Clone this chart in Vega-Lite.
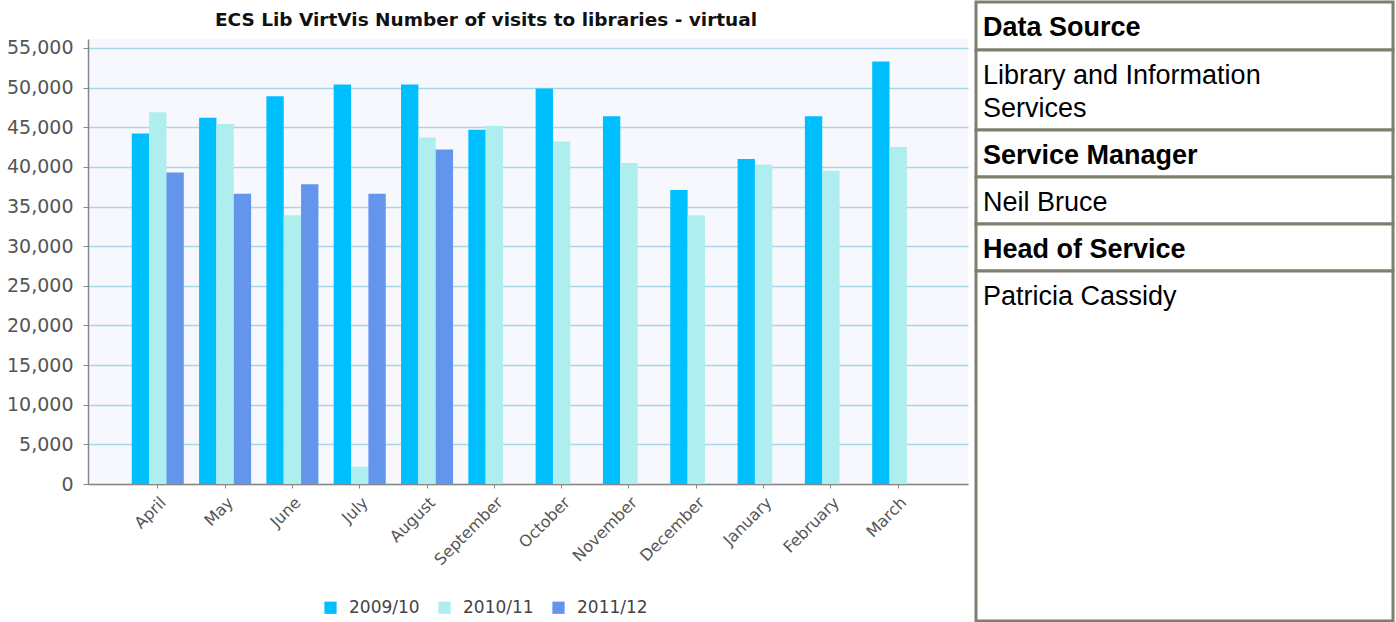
{
  "$schema": "https://vega.github.io/schema/vega-lite/v6.json",
  "padding": 0,
  "background": "white",
  "spacing": 6,
  "bounds": "full",
  "datasets": {
    "visits": [
      {"month": "April", "year": "2009/10", "visits": 44200},
      {"month": "April", "year": "2010/11", "visits": 46900},
      {"month": "April", "year": "2011/12", "visits": 39300},
      {"month": "May", "year": "2009/10", "visits": 46200},
      {"month": "May", "year": "2010/11", "visits": 45400},
      {"month": "May", "year": "2011/12", "visits": 36600},
      {"month": "June", "year": "2009/10", "visits": 48900},
      {"month": "June", "year": "2010/11", "visits": 33900},
      {"month": "June", "year": "2011/12", "visits": 37800},
      {"month": "July", "year": "2009/10", "visits": 50400},
      {"month": "July", "year": "2010/11", "visits": 2200},
      {"month": "July", "year": "2011/12", "visits": 36600},
      {"month": "August", "year": "2009/10", "visits": 50400},
      {"month": "August", "year": "2010/11", "visits": 43700},
      {"month": "August", "year": "2011/12", "visits": 42200},
      {"month": "September", "year": "2009/10", "visits": 44700},
      {"month": "September", "year": "2010/11", "visits": 45200},
      {"month": "October", "year": "2009/10", "visits": 49900},
      {"month": "October", "year": "2010/11", "visits": 43200},
      {"month": "November", "year": "2009/10", "visits": 46400},
      {"month": "November", "year": "2010/11", "visits": 40500},
      {"month": "December", "year": "2009/10", "visits": 37100},
      {"month": "December", "year": "2010/11", "visits": 33900},
      {"month": "January", "year": "2009/10", "visits": 41000},
      {"month": "January", "year": "2010/11", "visits": 40300},
      {"month": "February", "year": "2009/10", "visits": 46400},
      {"month": "February", "year": "2010/11", "visits": 39500},
      {"month": "March", "year": "2009/10", "visits": 53300},
      {"month": "March", "year": "2010/11", "visits": 42500}
    ]
  },
  "hconcat": [
    {
      "vconcat": [
        {
          "width": 796,
          "height": 36,
          "view": {"stroke": null, "fill": null},
          "data": {"values": [{"title": "ECS Lib VirtVis Number of visits to libraries - virtual"}]},
          "mark": {"type": "text", "font": "DejaVu Sans", "fontSize": 18.5, "fontWeight": "bold", "color": "#111111", "baseline": "middle", "align": "center"},
          "encoding": {"text": {"field": "title"}}
        },
        {
          "width": 880,
          "height": 445,
          "view": {"fill": "#f7f8fd", "stroke": null},
          "data": {"name": "visits"},
          "mark": {"type": "bar"},
          "encoding": {
            "x": {
              "field": "month",
              "type": "nominal",
              "sort": ["April", "May", "June", "July", "August", "September", "October", "November", "December", "January", "February", "March"],
              "scale": {"paddingInner": 0.227, "paddingOuter": 0.65},
              "axis": {
                "title": null,
                "labelAngle": -45,
                "labelFont": "DejaVu Sans",
                "labelFontSize": 16,
                "labelColor": "#555555",
                "labelPadding": 6,
                "tickSize": 4,
                "tickColor": "#888888",
                "domainColor": "#888888",
                "domainWidth": 1.5,
                "grid": false
              }
            },
            "xOffset": {
              "field": "year",
              "type": "nominal",
              "scale": {"domain": ["2009/10", "2010/11", "2011/12"], "paddingInner": 0}
            },
            "y": {
              "field": "visits",
              "type": "quantitative",
              "scale": {"domain": [0, 56135], "nice": false},
              "axis": {
                "title": null,
                "values": [0, 5000, 10000, 15000, 20000, 25000, 30000, 35000, 40000, 45000, 50000, 55000],
                "format": ",d",
                "labelFont": "DejaVu Sans",
                "labelFontSize": 19,
                "labelColor": "#555555",
                "labelPadding": 10,
                "tickSize": 5,
                "tickColor": "#888888",
                "domainColor": "#888888",
                "domainWidth": 1.5,
                "gridColor": "#a9d6e6",
                "gridWidth": 1.5,
                "minExtent": 88,
                "maxExtent": 88
              }
            },
            "color": {
              "field": "year",
              "type": "nominal",
              "scale": {"domain": ["2009/10", "2010/11", "2011/12"], "range": ["#00bfff", "#afeeee", "#6495ed"]},
              "legend": {
                "title": null,
                "orient": "none",
                "direction": "horizontal",
                "legendX": 234,
                "legendY": 560,
                "symbolType": "square",
                "symbolSize": 150,
                "symbolStrokeWidth": 0,
                "labelFont": "DejaVu Sans",
                "labelFontSize": 17,
                "labelColor": "#444444",
                "labelOffset": 10,
                "columnPadding": 16
              }
            }
          }
        }
      ],
      "spacing": 0,
      "resolve": {"legend": {"color": "independent"}}
    },
    {
      "spacing": 0,
      "bounds": "flush",
      "vconcat": [
        {
          "width": 417, "height": 48,
          "view": {"stroke": "#7f7f70", "strokeWidth": 3, "fill": "white"},
          "data": {"values": [{"text": "Data Source"}]},
          "mark": {"type": "text", "align": "left", "baseline": "top", "dx": 7, "dy": 13, "font": "Liberation Sans", "fontSize": 27, "fontWeight": "bold", "color": "#000000"},
          "encoding": {
            "text": {"field": "text"},
            "x": {"datum": 0, "type": "quantitative", "scale": {"domain": [0, 1]}, "axis": null},
            "y": {"datum": 1, "type": "quantitative", "scale": {"domain": [0, 1]}, "axis": null}
          }
        },
        {
          "width": 417, "height": 80,
          "view": {"stroke": "#7f7f70", "strokeWidth": 3, "fill": "white"},
          "data": {"values": [{"text": ["Library and Information", "Services"]}]},
          "mark": {"type": "text", "align": "left", "baseline": "top", "dx": 7, "dy": 13, "lineHeight": 33, "font": "Liberation Sans", "fontSize": 27, "color": "#000000"},
          "encoding": {
            "text": {"field": "text"},
            "x": {"datum": 0, "type": "quantitative", "scale": {"domain": [0, 1]}, "axis": null},
            "y": {"datum": 1, "type": "quantitative", "scale": {"domain": [0, 1]}, "axis": null}
          }
        },
        {
          "width": 417, "height": 47,
          "view": {"stroke": "#7f7f70", "strokeWidth": 3, "fill": "white"},
          "data": {"values": [{"text": "Service Manager"}]},
          "mark": {"type": "text", "align": "left", "baseline": "top", "dx": 7, "dy": 13, "font": "Liberation Sans", "fontSize": 27, "fontWeight": "bold", "color": "#000000"},
          "encoding": {
            "text": {"field": "text"},
            "x": {"datum": 0, "type": "quantitative", "scale": {"domain": [0, 1]}, "axis": null},
            "y": {"datum": 1, "type": "quantitative", "scale": {"domain": [0, 1]}, "axis": null}
          }
        },
        {
          "width": 417, "height": 47,
          "view": {"stroke": "#7f7f70", "strokeWidth": 3, "fill": "white"},
          "data": {"values": [{"text": "Neil Bruce"}]},
          "mark": {"type": "text", "align": "left", "baseline": "top", "dx": 7, "dy": 13, "font": "Liberation Sans", "fontSize": 27, "color": "#000000"},
          "encoding": {
            "text": {"field": "text"},
            "x": {"datum": 0, "type": "quantitative", "scale": {"domain": [0, 1]}, "axis": null},
            "y": {"datum": 1, "type": "quantitative", "scale": {"domain": [0, 1]}, "axis": null}
          }
        },
        {
          "width": 417, "height": 47,
          "view": {"stroke": "#7f7f70", "strokeWidth": 3, "fill": "white"},
          "data": {"values": [{"text": "Head of Service"}]},
          "mark": {"type": "text", "align": "left", "baseline": "top", "dx": 7, "dy": 13, "font": "Liberation Sans", "fontSize": 27, "fontWeight": "bold", "color": "#000000"},
          "encoding": {
            "text": {"field": "text"},
            "x": {"datum": 0, "type": "quantitative", "scale": {"domain": [0, 1]}, "axis": null},
            "y": {"datum": 1, "type": "quantitative", "scale": {"domain": [0, 1]}, "axis": null}
          }
        },
        {
          "width": 417, "height": 350,
          "view": {"stroke": "#7f7f70", "strokeWidth": 3, "fill": "white"},
          "data": {"values": [{"text": "Patricia Cassidy"}]},
          "mark": {"type": "text", "align": "left", "baseline": "top", "dx": 7, "dy": 13, "font": "Liberation Sans", "fontSize": 27, "color": "#000000"},
          "encoding": {
            "text": {"field": "text"},
            "x": {"datum": 0, "type": "quantitative", "scale": {"domain": [0, 1]}, "axis": null},
            "y": {"datum": 1, "type": "quantitative", "scale": {"domain": [0, 1]}, "axis": null}
          }
        }
      ]
    }
  ]
}
